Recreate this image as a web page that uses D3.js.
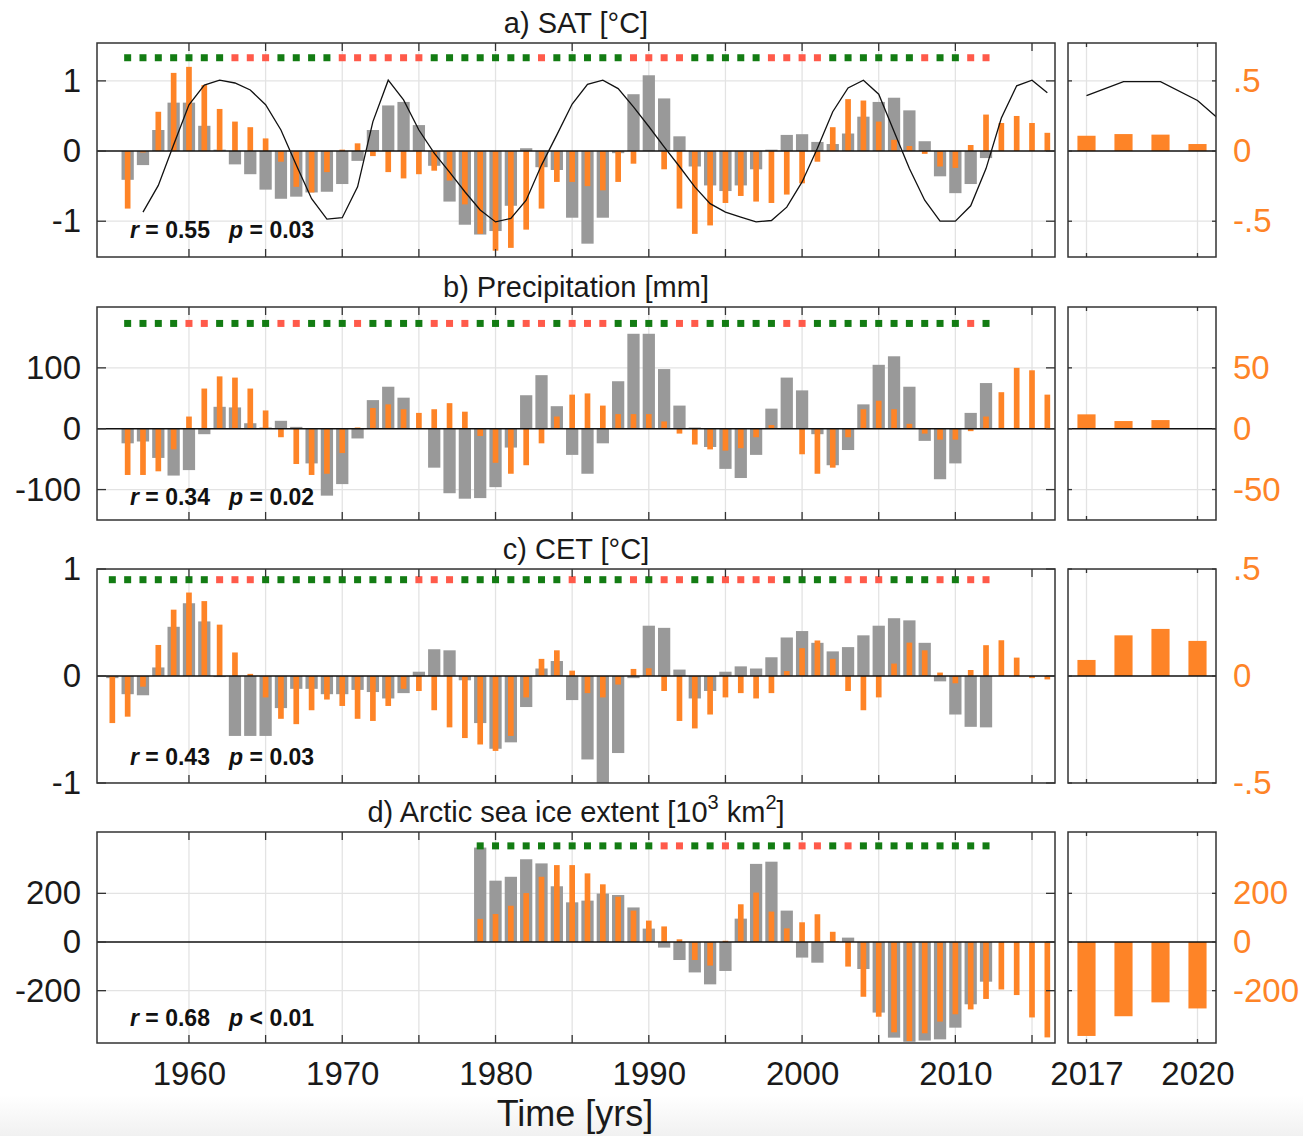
<!DOCTYPE html>
<html>
<head>
<meta charset="utf-8">
<script src="https://cdn.jsdelivr.net/npm/d3@7"></script>
<style>
  body { margin: 0; background: #fff; }
  svg { display: block; font-family: "Liberation Sans", Arial, Helvetica, sans-serif; }
</style>
</head>
<body>
<div id="chart"></div>
<script>
// ---------- data ----------
// a) SAT: gray = observed index (left axis), orange = model (right axis)
const satGray = [-0.41, -0.20, 0.30, 0.69, 0.69, 0.36, 0.02, -0.19, -0.33, -0.55,
  -0.68, -0.65, -0.59, -0.58, -0.47, -0.14, 0.30, 0.65, 0.70, 0.37,
  -0.21, -0.72, -1.05, -1.19, -1.14, -0.78, 0.04, -0.23, -0.27, -0.95,
  -1.32, -0.95, -0.03, 0.81, 1.08, 0.75, 0.21, -0.22, -0.49, -0.57,
  -0.49, -0.26, 0.02, 0.23, 0.24, 0.13, 0.10, 0.25, 0.49, 0.70,
  0.76, 0.58, 0.14, -0.36, -0.60, -0.47, -0.10];
const satOrange = [-0.41, -0.01, 0.28, 0.557, 0.60, 0.47, 0.30, 0.21, 0.17, 0.09,
  -0.076, -0.255, -0.295, -0.15, 0.01, 0.055, -0.036, -0.15, -0.195, -0.165,
  -0.14, -0.21, -0.38, -0.59, -0.71, -0.69, -0.56, -0.41, -0.22, -0.22,
  -0.25, -0.28, -0.22, -0.09, 0.00, -0.13, -0.41, -0.59, -0.53, -0.37,
  -0.32, -0.36, -0.37, -0.31, -0.23, -0.076, 0.17, 0.37, 0.36, 0.21,
  0.08, 0.036, -0.02, -0.11, -0.12, 0.043, 0.26, 0.20, 0.25, 0.20, 0.13];
const satLine = [-0.87, -0.49, 0.09, 0.66, 0.94, 1.01, 0.97, 0.87, 0.66, 0.30,
  -0.20, -0.68, -0.97, -0.95, -0.51, 0.42, 1.01, 0.73, 0.30, -0.03,
  -0.30, -0.58, -0.84, -1.01, -0.96, -0.70, -0.20, 0.23, 0.67, 0.95,
  1.01, 0.89, 0.63, 0.35, 0.06, -0.22, -0.51, -0.75, -0.87, -0.94,
  -1.01, -0.99, -0.80, -0.44, 0.04, 0.56, 0.90, 1.01, 0.81, 0.28,
  -0.25, -0.70, -1.00, -1.00, -0.78, -0.25, 0.47, 0.93, 1.01, 0.83];
const satSig = [1,1,1,1,1,1,1, 0,0,0, 1,1,1,1, 0,0,0,0,0,0, 1,1,1,1,1,1,1, 0,
  1,1,1,1,1, 0,0,0,0, 1,1,1,1,1, 0,0,0,0, 1,1,1,1,1,1, 0, 1,1, 0,0];
const satRecent = [0.109, 0.121, 0.117, 0.05];
const satLineRecent = [0.79, 0.99, 0.99, 0.72, 0.26];
const satStat = ["0.55", "=", "0.03"];

// b) Precipitation
const prGray = [-24, -21, -48, -77, -68, -9, 36, 35, 9, 2,
  13, 3, -57, -110, -91, -16, 47, 69, 51, 0,
  -64, -106, -115, -114, -96, -31, 55, 88, 37, -43,
  -74, -24, 78, 156, 156, 98, 38, 2, -30, -66,
  -81, -43, 33, 84, 63, -9, -60, -35, 40, 105,
  119, 69, -20, -83, -57, 26, 75];
const prOrange = [-38, -38, -35, -17, 10, 33, 43, 42, 33, 15,
  -7, -29, -38, -37, -20, 1, 17, 20, 16, 13,
  16, 21, 14, -6, -28, -37, -30, -12, 10, 28,
  29, 19, 12, 12, 12, 6, -4, -13, -17, -18,
  -16, -7, 3, 0, -21, -37, -32, -7, 16, 23,
  16, 4, -4, -9, -9, -2, 10, 30, 50, 48, 28];
const prSig = [1,1,1,1, 0,0, 1,1,1,1, 0,0, 1,1,1, 0, 1,1,1,1, 0,0,0, 1,1,1, 0,0, 1,
  0,0,0, 1,1,1,1, 0,0, 1,1,1,1,1, 0,0, 1,1,1,1,1,1,1,1,1,1, 0, 1];
const prRecent = [11.8, 6.3, 7.1, 0.3];
const prStat = ["0.34", "=", "0.02"];

// c) CET
const cetGray = [-0.02, -0.17, -0.18, 0.08, 0.46, 0.68, 0.51, -0.01, -0.56, -0.56,
  -0.56, -0.30, -0.12, -0.12, -0.17, -0.17, -0.13, -0.15, -0.21, -0.16,
  0.04, 0.25, 0.24, -0.04, -0.44, -0.68, -0.62, -0.29, 0.07, 0.14,
  -0.225, -0.78, -1.1, -0.72, -0.02, 0.47, 0.45, 0.06, -0.21, -0.14,
  0.04, 0.09, 0.07, 0.175, 0.36, 0.42, 0.31, 0.23, 0.27, 0.38,
  0.47, 0.54, 0.52, 0.31, -0.05, -0.36, -0.475, -0.48];
const cetOrange = [-0.22, -0.19, -0.05, 0.145, 0.31, 0.39, 0.35, 0.24, 0.11, 0.01,
  -0.10, -0.20, -0.225, -0.16, -0.11, -0.14, -0.20, -0.21, -0.14, -0.06,
  -0.07, -0.16, -0.24, -0.29, -0.32, -0.35, -0.28, -0.10, 0.08, 0.12,
  0.025, -0.08, -0.10, -0.04, 0.033, 0.036, -0.07, -0.21, -0.245, -0.18,
  -0.10, -0.08, -0.105, -0.08, 0.023, 0.13, 0.166, 0.08, -0.07, -0.16,
  -0.10, 0.058, 0.156, 0.12, 0.016, -0.034, 0.028, 0.144, 0.167, 0.086, -0.01, -0.016];
const cetSig = [1,1,1,1,1,1,1, 0,0,0, 1,1,1,1,1,1,1,1,1,1, 0,0,0, 1,1,1,1,1,1,1, 0,
  1,1,1, 0, 1, 0,0, 1,1, 0,0,0,0, 1,1,1,1, 0,0,0, 1,1,1, 0, 1, 0,0];
const cetRecent = [0.075, 0.19, 0.22, 0.164];
const cetStat = ["0.43", "=", "0.03"];

// d) Arctic sea ice extent
const iceGray = [388, 252, 268, 340, 323, 229, 163, 170, 199, 193,
  142, 55, -23, -74, -125, -174, -119, 96, 321, 330,
  129, -64, -85, 3, 18, -111, -290, -393, -410, -405,
  -400, -352, -256, -163];
const iceOrange = [95, 115, 149, 201, 268, 316, 316, 282, 237, 186,
  129, 88, 64, 11, -74, -97, 5, 155, 203, 125,
  56, 81, 114, 42, -101, -225, -307, -371, -407, -375,
  -327, -297, -277, -234, -195, -218, -310, -392];
const iceSig = [1,1,1,1,1,1,1,1,1,1,1,1, 0,0, 1,1, 0, 1,1,1,1, 0,0, 1, 0, 1,1,1,1,1,1,1,1,1];
const iceRecent = [-386, -305, -248, -273];
const iceStat = ["0.68", "<", "0.01"];

// axis ticks / labels
const mainGridYears = [1960, 1965, 1970, 1975, 1980, 1985, 1990, 1995, 2000, 2005, 2010, 2015];
const mainLabelYears = [1960, 1970, 1980, 1990, 2000, 2010];
const recentYears = [2017, 2018, 2019, 2020];
const recentLabelYears = [2017, 2020];

// ---------- layout ----------
const W = 1303, H = 1136;
const GRAY = "#999999", ORANGE = "#fe8427", GREEN = "#137c13", RED = "#ff5a4a";
const TEXT = "#1a1a1a", BOX = "#333333", GRID = "#e3e3e3";

const svg = d3.select("#chart").append("svg")
    .attr("width", W)
    .attr("height", H);

// faint shading at bottom of the original screenshot
const grad = svg.append("defs").append("linearGradient")
    .attr("id", "bottomShade").attr("x1", 0).attr("x2", 0).attr("y1", 0).attr("y2", 1);
grad.append("stop").attr("offset", "0%").attr("stop-color", "#ffffff");
grad.append("stop").attr("offset", "100%").attr("stop-color", "#f1f1f1");
svg.append("rect").attr("x", 0).attr("y", 1095).attr("width", W).attr("height", H - 1095)
    .attr("fill", "url(#bottomShade)");

const xMain = d3.scaleLinear().domain([1954, 2016.5]).range([97, 1055]);
const xRight = d3.scaleLinear().domain([2016.5, 2020.5]).range([1068, 1216]);

const fmtLeft = v => String(v);
const fmtRight = v => v === 0 ? "0" : (v < 0 ? "-" : "") + String(Math.abs(v)).replace(/^0\./, ".");

const panels = [
    {title: [{t: "a) SAT [°C]"}], top: 43, bottom: 257, yDomain: [-1.51, 1.54], k: 0.5,
     leftTicks: [-1, 0, 1], rightTicks: [-0.5, 0, 0.5], markAt: 1.33,
     gray: satGray, grayStart: 1956, orange: satOrange, orangeStart: 1956,
     sig: satSig, sigStart: 1956, recent: satRecent,
     line: satLine, lineStart: 1957, lineRecent: satLineRecent, stat: satStat, statY: 238},
    {title: [{t: "b) Precipitation [mm]"}], top: 307, bottom: 520, yDomain: [-150, 200], k: 0.5,
     leftTicks: [-100, 0, 100], rightTicks: [-50, 0, 50], markAt: 173,
     gray: prGray, grayStart: 1956, orange: prOrange, orangeStart: 1956,
     sig: prSig, sigStart: 1956, recent: prRecent, stat: prStat, statY: 505},
    {title: [{t: "c) CET [°C]"}], top: 569, bottom: 783, yDomain: [-1, 1], k: 0.5,
     leftTicks: [-1, 0, 1], rightTicks: [-0.5, 0, 0.5], markAt: 0.9,
     gray: cetGray, grayStart: 1955, orange: cetOrange, orangeStart: 1955,
     sig: cetSig, sigStart: 1955, recent: cetRecent, stat: cetStat, statY: 765},
    {title: [{t: "d) Arctic sea ice extent [10"}, {t: "3", sup: true}, {t: " km"}, {t: "2", sup: true}, {t: "]"}],
     top: 832, bottom: 1043, yDomain: [-415, 452], k: 1,
     leftTicks: [-200, 0, 200], rightTicks: [-200, 0, 200], markAt: 395,
     gray: iceGray, grayStart: 1979, orange: iceOrange, orangeStart: 1979,
     sig: iceSig, sigStart: 1979, recent: iceRecent, stat: iceStat, statY: 1026}
];

const defs = svg.select("defs");

panels.forEach((p, pi) => {
    const yL = d3.scaleLinear().domain(p.yDomain).range([p.bottom, p.top]);
    const yR = d3.scaleLinear().domain(p.yDomain.map(v => v * p.k)).range([p.bottom, p.top]);
    const g = svg.append("g").attr("class", "panel");

    const subs = [
        {x: xMain, gridX: mainGridYears, xt: 8, yt: 9, main: true},
        {x: xRight, gridX: recentLabelYears, xt: 4, yt: 4, main: false}
    ];

    subs.forEach((s, si) => {
        const [x0, x1] = s.x.range();
        const clipId = "clip" + pi + "_" + si;
        defs.append("clipPath").attr("id", clipId)
            .append("rect").attr("x", x0).attr("y", p.top).attr("width", x1 - x0).attr("height", p.bottom - p.top);

        const sg = g.append("g");
        const inner = sg.append("g").attr("clip-path", "url(#" + clipId + ")");

        // grid
        inner.selectAll(".vgrid").data(s.gridX).enter().append("line")
            .attr("x1", d => s.x(d)).attr("x2", d => s.x(d))
            .attr("y1", p.top).attr("y2", p.bottom)
            .attr("stroke", GRID).attr("stroke-width", 1.3);
        inner.selectAll(".hgrid").data(p.leftTicks.filter(d => d !== 0)).enter().append("line")
            .attr("x1", x0).attr("x2", x1)
            .attr("y1", d => yL(d)).attr("y2", d => yL(d))
            .attr("stroke", GRID).attr("stroke-width", 1.3);

        if (s.main) {
            const grayBw = s.x(1954.8) - s.x(1954);
            const orBw = s.x(1954.37) - s.x(1954);
            const grayData = p.gray.map((v, i) => ({year: p.grayStart + i, v}));
            const orData = p.orange.map((v, i) => ({year: p.orangeStart + i, v}));

            inner.selectAll(".gbar").data(grayData).enter().append("rect")
                .attr("x", d => s.x(d.year) - grayBw / 2)
                .attr("width", grayBw)
                .attr("y", d => yL(Math.max(0, d.v)))
                .attr("height", d => Math.abs(yL(d.v) - yL(0)))
                .attr("fill", GRAY);

            inner.selectAll(".obar").data(orData).enter().append("rect")
                .attr("x", d => s.x(d.year) - orBw / 2)
                .attr("width", orBw)
                .attr("y", d => yR(Math.max(0, d.v)))
                .attr("height", d => Math.abs(yR(d.v) - yR(0)))
                .attr("fill", ORANGE);
        } else {
            const bw = s.x(2016.49) - s.x(2016);
            const recData = p.recent.map((v, i) => ({year: recentYears[i], v}));
            inner.selectAll(".rbar").data(recData).enter().append("rect")
                .attr("x", d => s.x(d.year) - bw / 2)
                .attr("width", bw)
                .attr("y", d => yR(Math.max(0, d.v)))
                .attr("height", d => Math.abs(yR(d.v) - yR(0)))
                .attr("fill", ORANGE);
        }

        // zero line
        inner.append("line")
            .attr("x1", x0).attr("x2", x1)
            .attr("y1", yL(0)).attr("y2", yL(0))
            .attr("stroke", "#111").attr("stroke-width", 1.4);

        // black index line (SAT only)
        const lineGen = d3.line().x(d => s.x(d.year)).y(d => yL(d.v));
        if (s.main && p.line) {
            inner.append("path")
                .datum(p.line.map((v, i) => ({year: p.lineStart + i, v})))
                .attr("d", lineGen)
                .attr("fill", "none").attr("stroke", "#111").attr("stroke-width", 1.3);
        }
        if (!s.main && p.lineRecent) {
            inner.append("path")
                .datum(p.lineRecent.map((v, i) => ({year: 2017 + i, v})))
                .attr("d", lineGen)
                .attr("fill", "none").attr("stroke", "#111").attr("stroke-width", 1.3);
        }

        // significance markers
        if (s.main) {
            const ms = 7;
            sg.selectAll(".mark").data(p.sig.map((v, i) => ({year: p.sigStart + i, v}))).enter().append("rect")
                .attr("x", d => s.x(d.year) - ms / 2)
                .attr("y", yL(p.markAt) - ms / 2)
                .attr("width", ms).attr("height", ms)
                .attr("fill", d => d.v ? GREEN : RED);
        }

        // ticks (inward, on all four sides)
        s.gridX.forEach(d => {
            sg.append("line").attr("x1", s.x(d)).attr("x2", s.x(d)).attr("y1", p.top).attr("y2", p.top + s.xt)
                .attr("stroke", BOX).attr("stroke-width", 1.3);
            sg.append("line").attr("x1", s.x(d)).attr("x2", s.x(d)).attr("y1", p.bottom).attr("y2", p.bottom - s.xt)
                .attr("stroke", BOX).attr("stroke-width", 1.3);
        });
        p.leftTicks.forEach(d => {
            sg.append("line").attr("x1", x0).attr("x2", x0 + s.yt).attr("y1", yL(d)).attr("y2", yL(d))
                .attr("stroke", BOX).attr("stroke-width", 1.3);
            sg.append("line").attr("x1", x1).attr("x2", x1 - s.yt).attr("y1", yL(d)).attr("y2", yL(d))
                .attr("stroke", BOX).attr("stroke-width", 1.3);
        });

        // box
        sg.append("rect")
            .attr("x", x0).attr("y", p.top)
            .attr("width", x1 - x0).attr("height", p.bottom - p.top)
            .attr("fill", "none").attr("stroke", BOX).attr("stroke-width", 1.5);
    });

    // left axis labels
    const leftAxis = g.append("g")
        .attr("transform", "translate(" + xMain.range()[0] + ",0)")
        .call(d3.axisLeft(yL).tickValues(p.leftTicks).tickFormat(fmtLeft).tickSize(0).tickPadding(16));
    leftAxis.select(".domain").remove();
    leftAxis.selectAll("text").attr("font-size", 33).attr("fill", TEXT)
        .attr("font-family", "'Liberation Sans', Arial, Helvetica, sans-serif");

    // right (orange) axis labels
    const rightAxis = g.append("g")
        .attr("transform", "translate(" + xRight.range()[1] + ",0)")
        .call(d3.axisRight(yR).tickValues(p.rightTicks).tickFormat(fmtRight).tickSize(0).tickPadding(17));
    rightAxis.select(".domain").remove();
    rightAxis.selectAll("text").attr("font-size", 33).attr("fill", ORANGE)
        .attr("font-family", "'Liberation Sans', Arial, Helvetica, sans-serif");

    // title
    const title = g.append("text")
        .attr("x", (xMain.range()[0] + xMain.range()[1]) / 2)
        .attr("y", p.top - 10)
        .attr("text-anchor", "middle")
        .attr("font-size", 29)
        .attr("fill", TEXT);
    p.title.forEach((part, i) => {
        const ts = title.append("tspan").text(part.t);
        if (part.sup) ts.attr("font-size", 20).attr("dy", -13);
        else if (i > 0 && p.title[i - 1].sup) ts.attr("dy", 13);
    });

    // r / p statistics
    const st = g.append("text")
        .attr("x", 130).attr("y", p.statY)
        .attr("font-size", 23).attr("font-weight", "bold").attr("fill", "#111")
        .style("white-space", "pre");
    st.append("tspan").attr("font-style", "italic").text("r");
    st.append("tspan").text(" = " + p.stat[0] + "   ");
    st.append("tspan").attr("font-style", "italic").text("p");
    st.append("tspan").text(" " + p.stat[1] + " " + p.stat[2]);
});

// x axis labels (bottom)
const lastBottom = panels[panels.length - 1].bottom;
[[xMain, mainLabelYears], [xRight, recentLabelYears]].forEach(([sc, vals]) => {
    const ax = svg.append("g")
        .attr("transform", "translate(0," + lastBottom + ")")
        .call(d3.axisBottom(sc).tickValues(vals).tickFormat(d3.format("d")).tickSize(0).tickPadding(19));
    ax.select(".domain").remove();
    ax.selectAll("text").attr("font-size", 33).attr("fill", TEXT)
        .attr("font-family", "'Liberation Sans', Arial, Helvetica, sans-serif");
});

svg.append("text")
    .attr("x", 575).attr("y", 1126)
    .attr("text-anchor", "middle")
    .attr("font-size", 36)
    .attr("fill", TEXT)
    .text("Time [yrs]");
</script>
</body>
</html>
